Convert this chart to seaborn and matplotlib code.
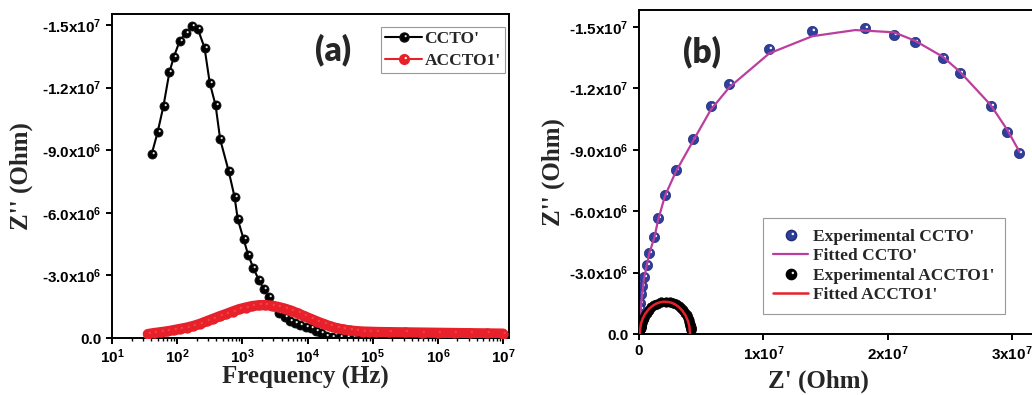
import numpy as np
import pandas as pd
import matplotlib
matplotlib.use("Agg")
import matplotlib.pyplot as plt
import seaborn as sns
from matplotlib.path import Path
from matplotlib.markers import MarkerStyle
from matplotlib.lines import Line2D
from matplotlib.font_manager import FontProperties
from matplotlib.ticker import FuncFormatter, FixedLocator, LogLocator, NullLocator

# ---------------- data ----------------
# CCTO' : frequency (Hz), -Z'' (MOhm), Z' (MOhm)
freq_ccto = [40.7, 50.1, 61.7, 75.9, 89.1, 109.6, 134.9, 169.8, 208.9, 263,
             316, 389, 457, 617, 759, 851, 1047, 1230, 1479, 1778,
             2138, 2570, 3090, 3715, 4467, 5370, 6457, 7762, 9333, 11220,
             13490, 16220, 19500, 23440, 31620, 39810, 50120, 63100, 79430, 1.0e5,
             1.585e5, 2.512e5, 3.981e5, 6.31e5, 1.0e6, 1.585e6, 2.512e6, 3.981e6, 6.31e6, 1.0e7]
negzpp_ccto = [8.82, 9.86, 11.13, 12.73, 13.48, 14.25, 14.60, 14.95, 14.79, 13.91,
               12.23, 11.15, 9.52, 8.00, 6.77, 5.69, 4.73, 3.98, 3.35, 2.80,
               2.35, 1.95, 1.52, 1.20, 0.99, 0.82, 0.70, 0.62, 0.54, 0.46,
               0.35, 0.22, 0.10, 0.04, 0.03, 0.03, 0.02, 0.02, 0.02, 0.02,
               0.01, 0.01, 0.01, 0.01, 0.01, 0.01, 0.01, 0.01, 0.01, 0.01]
zp_ccto = [30.6, 29.63, 28.29, 25.82, 24.43, 22.20, 20.51, 18.18, 13.94, 10.48,
           7.26, 5.77, 4.32, 2.98, 2.09, 1.55, 1.23, 0.83, 0.62, 0.40,
           0.22, 0.14, 0.10, 0.08, 0.065, 0.055, 0.05, 0.045, 0.04, 0.035,
           0.03, 0.028, 0.026, 0.024, 0.022, 0.02, 0.018, 0.016, 0.015, 0.014,
           0.012, 0.011, 0.01, 0.009, 0.008, 0.007, 0.006, 0.006, 0.005, 0.005]

# ACCTO1' : frequency (Hz), -Z'' (MOhm), Z' (MOhm)
freq_accto = [35.5, 44.7, 56.2, 70.8, 89.1, 112, 141, 178, 224, 282,
              355, 447, 562, 708, 891, 1122, 1413, 1778, 2239, 2818,
              3548, 4467, 5623, 7079, 8913, 11220, 14130, 17780, 22390, 28180,
              35480, 44670, 56230, 70790, 89130, 112200, 177800, 316200, 562300, 1.0e6,
              1.778e6, 3.162e6, 5.623e6, 1.0e7]
negzpp_accto = [0.19, 0.24, 0.28, 0.32, 0.38, 0.44, 0.50, 0.58, 0.68, 0.80,
                0.92, 1.04, 1.15, 1.27, 1.38, 1.46, 1.53, 1.57, 1.58, 1.55,
                1.49, 1.41, 1.31, 1.18, 1.05, 0.92, 0.79, 0.67, 0.56, 0.47,
                0.41, 0.36, 0.33, 0.31, 0.30, 0.29, 0.28, 0.27, 0.26, 0.25,
                0.24, 0.23, 0.22, 0.21]
zp_accto = [4.19, 4.18, 4.17, 4.16, 4.14, 4.12, 4.10, 4.06, 4.01, 3.93,
            3.83, 3.71, 3.57, 3.40, 3.19, 2.99, 2.75, 2.50, 2.20, 1.75,
            1.45, 1.20, 0.98, 0.78, 0.61, 0.47, 0.37, 0.29, 0.23, 0.19,
            0.165, 0.15, 0.14, 0.13, 0.12, 0.11, 0.10, 0.09, 0.08, 0.07,
            0.06, 0.05, 0.04, 0.03]

# fitted curves (MOhm)
fit_zp_ccto = [0.0, 0.05, 0.15, 0.40, 0.83, 1.23, 1.55, 2.09, 2.98, 4.32, 5.77,
               7.26, 10.48, 13.94, 17.40, 20.51, 22.20, 24.43, 25.82, 28.29, 29.63, 30.6]
fit_negzpp_ccto = [0.0, 0.6, 1.3, 2.7, 3.95, 4.7, 5.6, 6.75, 7.95, 9.4, 10.95,
                   12.05, 13.71, 14.55, 14.85, 14.74, 14.33, 13.55, 12.81, 11.19, 9.97, 8.91]
fit_zp_accto = [0.05, 0.15, 0.30, 0.50, 0.80, 1.10, 1.40, 1.70, 2.00, 2.30,
                2.60, 2.90, 3.20, 3.50, 3.75, 3.95, 4.05, 4.11]
fit_negzpp_accto = [0.0, 0.49, 0.76, 0.99, 1.23, 1.38, 1.49, 1.55, 1.58, 1.57,
                    1.53, 1.45, 1.32, 1.13, 0.90, 0.61, 0.38, 0.0]

labels_a = ["CCTO'", "ACCTO1'"]
labels_b = ["Experimental CCTO'", "Fitted CCTO'", "Experimental ACCTO1'", "Fitted ACCTO1'"]
yticks = [0, -3e6, -6e6, -9e6, -1.2e7, -1.5e7]
xticks_b = [0, 1e7, 2e7, 3e7]

# ---------------- style ----------------
sns.set_theme(style="ticks")
plt.rcParams.update({
    "font.family": ["Liberation Sans", "DejaVu Sans"],
    "font.weight": "bold",
    "axes.linewidth": 1.4,
    "axes.edgecolor": "black",
    "xtick.direction": "out", "ytick.direction": "out",
    "xtick.major.size": 4.5, "ytick.major.size": 4.5,
    "xtick.minor.size": 2.5, "ytick.minor.size": 2.5,
    "xtick.major.width": 1.4, "ytick.major.width": 1.4,
    "xtick.minor.width": 1.0,
    "xtick.color": "black", "ytick.color": "black",
    "xtick.labelsize": 11, "ytick.labelsize": 11,
    "mathtext.default": "regular",
})

RED = "#e8202a"
BLUE = "#2f3f9e"
MAG = "#bb3e9f"


def highlight_marker():
    c = Path.circle(center=(0.13, 0.15), radius=0.12)
    verts = np.vstack([[[-0.5, -0.5]], c.vertices])
    codes = np.concatenate([[Path.MOVETO], c.codes])
    return MarkerStyle(Path(verts, codes))


HL = highlight_marker()


def sci_fmt(v, pos):
    if abs(v) < 1:
        return "0.0"
    e = int(np.floor(np.log10(abs(v)) + 1e-9))
    m = v / 10 ** e
    return f"{m:.1f}x10$\\mathregular{{^{{{e}}}}}$"


def sci_int_fmt(v, pos):
    if abs(v) < 1:
        return "0"
    e = int(np.floor(np.log10(abs(v)) + 1e-9))
    m = v / 10 ** e
    return f"{int(round(m))}x10$\\mathregular{{^{{{e}}}}}$"


def log_fmt(v, pos):
    e = int(round(np.log10(v)))
    return f"10$\\mathregular{{^{{{e}}}}}$"


df_ccto = pd.DataFrame({"freq": freq_ccto,
                        "Zpp": -np.array(negzpp_ccto) * 1e6,
                        "Zp": np.array(zp_ccto) * 1e6})
df_accto = pd.DataFrame({"freq": freq_accto,
                         "Zpp": -np.array(negzpp_accto) * 1e6,
                         "Zp": np.array(zp_accto) * 1e6})
df_fit_ccto = pd.DataFrame({"Zp": np.array(fit_zp_ccto) * 1e6,
                            "Zpp": -np.array(fit_negzpp_ccto) * 1e6})
df_fit_accto = pd.DataFrame({"Zp": np.array(fit_zp_accto) * 1e6,
                             "Zpp": -np.array(fit_negzpp_accto) * 1e6})

fig = plt.figure(figsize=(10.32, 3.95), dpi=100)
ax1 = fig.add_axes([112 / 1032, 1 - 338 / 395, 397 / 1032, 324 / 395])
ax2 = fig.add_axes([639 / 1032, 1 - 334 / 395, 406 / 1032, 324 / 395])

label_font = FontProperties(family="Liberation Serif", weight="bold", size=18)
leg_font = FontProperties(family="Liberation Serif", weight="bold", size=12.5)
panel_font = FontProperties(family="Lato", weight="heavy", size=24)

# ---------------- panel (a) ----------------
ms_a = 6.5
sns.lineplot(data=df_ccto, x="freq", y="Zpp", ax=ax1, color="black", lw=1.5,
             marker="o", ms=ms_a, mec="#111111", mew=0.6, mfc="black",
             sort=False, estimator=None, zorder=2, legend=False)
ax1.plot(df_ccto["freq"], df_ccto["Zpp"], ls="none", marker=HL, ms=ms_a,
         mfc="#e8e8e8", mec="none", zorder=2.1)
sns.lineplot(data=df_accto, x="freq", y="Zpp", ax=ax1, color=RED, lw=7.4,
             marker="o", ms=7.4, mec=RED, mfc=RED, mew=0.0,
             solid_capstyle="round", solid_joinstyle="round",
             sort=False, estimator=None, zorder=3, legend=False)
ax1.plot(df_accto["freq"], df_accto["Zpp"], ls="none", marker=HL, ms=7.4,
         mfc="white", mec="none", alpha=0.15, zorder=3.1)

ax1.set_xscale("log")
ax1.set_xlim(10, 1.236e7)
ax1.set_ylim(0, -1.553e7)
ax1.xaxis.set_major_locator(LogLocator(base=10, numticks=12))
ax1.xaxis.set_minor_locator(LogLocator(base=10, subs=np.arange(2, 10), numticks=12))
ax1.xaxis.set_major_formatter(FuncFormatter(log_fmt))
ax1.xaxis.set_minor_formatter(FuncFormatter(lambda v, p: ""))
ax1.yaxis.set_major_locator(FixedLocator(yticks))
ax1.yaxis.set_major_formatter(FuncFormatter(sci_fmt))
ax1.yaxis.set_minor_locator(NullLocator())
ax1.tick_params(axis="x", pad=2)
ax1.tick_params(axis="y", pad=3)
ax1.set_xlabel("Frequency (Hz)", fontproperties=label_font)
ax1.set_ylabel("Z'' (Ohm)", fontproperties=label_font)
ax1.xaxis.set_label_coords(0.486, -0.085)
ax1.yaxis.set_label_coords(-0.20, 0.5)
ax1.text(0.557, 0.889, "(a)", transform=ax1.transAxes, ha="center", va="center",
         fontproperties=panel_font)

h_a = [(Line2D([], [], color="black", lw=1.5, marker="o", ms=ms_a, mfc="black", mec="#111111"),
        Line2D([], [], ls="none", marker=HL, ms=ms_a, mfc="#e8e8e8", mec="none")),
       (Line2D([], [], color=RED, lw=1.5, marker="o", ms=ms_a + 0.5, mfc=RED, mec=RED),
        Line2D([], [], ls="none", marker=HL, ms=ms_a + 0.5, mfc="white", mec="none"))]
leg_a = ax1.legend(h_a, labels_a, loc="upper right", bbox_to_anchor=(0.99, 0.96),
                   borderaxespad=0, handlelength=2.1, handletextpad=0.15,
                   prop=leg_font, frameon=True, fancybox=False, edgecolor="#808080",
                   borderpad=0.25, labelspacing=0.3, numpoints=1)
leg_a.get_frame().set_linewidth(0.8)

# ---------------- panel (b) ----------------
ms_b = 7.4
sns.scatterplot(data=df_ccto, x="Zp", y="Zpp", ax=ax2, color=BLUE, s=ms_b ** 2,
                marker="o", edgecolor="#1f2a72", linewidth=0.5, zorder=2, legend=False)
ax2.plot(df_ccto["Zp"], df_ccto["Zpp"], ls="none", marker=HL, ms=ms_b,
         mfc="white", mec="none", zorder=2.1)
sns.lineplot(data=df_fit_ccto, x="Zp", y="Zpp", ax=ax2, color=MAG, lw=1.6,
             sort=False, estimator=None, zorder=2.5, legend=False)
sns.scatterplot(data=df_accto, x="Zp", y="Zpp", ax=ax2, color="black", s=6.8 ** 2,
                marker="o", edgecolor="black", linewidth=0.5, zorder=3, legend=False)
sns.lineplot(data=df_fit_accto, x="Zp", y="Zpp", ax=ax2, color=RED, lw=1.8,
             sort=False, estimator=None, zorder=3.5, legend=False)

ax2.set_xlim(0, 3.266e7)
ax2.set_ylim(0, -1.583e7)
ax2.xaxis.set_major_locator(FixedLocator(xticks_b))
ax2.xaxis.set_major_formatter(FuncFormatter(sci_int_fmt))
ax2.xaxis.set_minor_locator(NullLocator())
ax2.yaxis.set_major_locator(FixedLocator(yticks))
ax2.yaxis.set_major_formatter(FuncFormatter(sci_fmt))
ax2.yaxis.set_minor_locator(NullLocator())
ax2.tick_params(axis="x", pad=3)
ax2.tick_params(axis="y", pad=3)
ax2.set_xlabel("Z' (Ohm)", fontproperties=label_font)
ax2.set_ylabel("Z'' (Ohm)", fontproperties=label_font)
ax2.xaxis.set_label_coords(0.441, -0.11)
ax2.yaxis.set_label_coords(-0.183, 0.5)
ax2.text(0.155, 0.870, "(b)", transform=ax2.transAxes, ha="center", va="center",
         fontproperties=panel_font)

h_b = [(Line2D([], [], ls="none", marker="o", ms=ms_b, mfc=BLUE, mec="#1f2a72"),
        Line2D([], [], ls="none", marker=HL, ms=ms_b, mfc="white", mec="none")),
       Line2D([], [], color=MAG, lw=1.6),
       (Line2D([], [], ls="none", marker="o", ms=ms_b, mfc="black", mec="black"),
        Line2D([], [], ls="none", marker=HL, ms=ms_b, mfc="#e8e8e8", mec="none")),
       Line2D([], [], color=RED, lw=1.8)]
leg_b = ax2.legend(h_b, labels_b, loc="upper left", bbox_to_anchor=(0.305, 0.358),
                   borderaxespad=0, handlelength=2.0, handletextpad=0.3,
                   prop=leg_font, frameon=True, fancybox=False, edgecolor="#808080",
                   borderpad=0.6, labelspacing=0.2, numpoints=1)
leg_b.get_frame().set_linewidth(0.8)

for ax in (ax1, ax2):
    for sp in ax.spines.values():
        sp.set_linewidth(1.4)
        sp.set_color("black")
    for lab in ax.get_xticklabels() + ax.get_yticklabels():
        lab.set_fontweight("bold")

fig.savefig("out.png", dpi=100)
